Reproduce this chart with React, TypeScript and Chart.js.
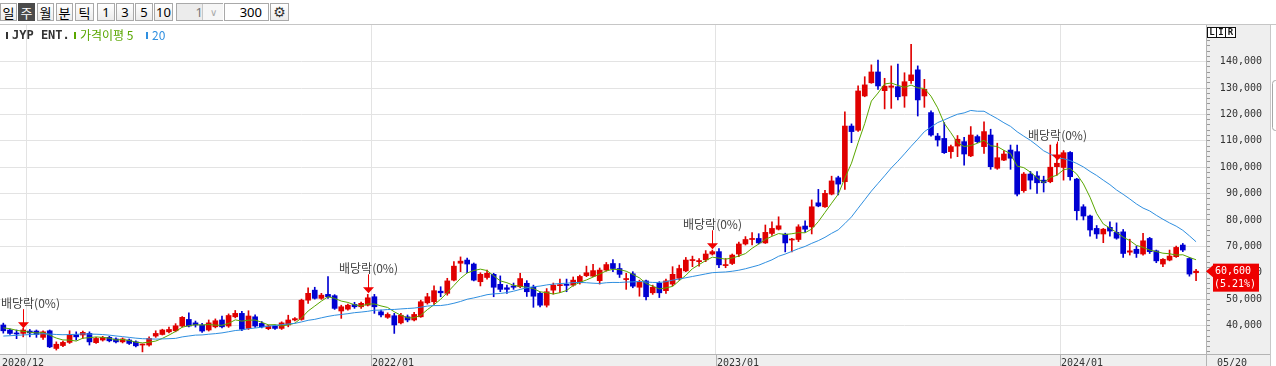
import React, { useEffect, useRef } from 'react';
import { Chart, registerables } from 'chart.js';

Chart.register(...registerables);

// ---------- data ----------
const stockName = 'JYP ENT.';
const firstWeekStart = '2020-12-07';

const opens = [
  40200, 38300, 37100, 37000, 37900, 37900, 35500, 38000, 31300, 32400,
  33600, 36500, 36400, 37000, 33500, 34500, 35500, 34900, 33800, 34500,
  33800, 32600, 32600, 36000, 36600, 37600, 38000, 39800, 42300, 41000,
  40200, 38300, 39500, 42100, 39800, 43300, 44600, 38900, 43300, 40800,
  38800, 39800, 38900, 40200, 42100, 42300, 49600, 53400, 50300, 51800,
  51300, 45500, 46200, 48000, 47100, 47700, 50900, 45200, 43100, 43700,
  41000, 43300, 42100, 43300, 48600, 49000, 53000, 52200, 57200, 63600,
  64800, 63300, 56600, 58200, 59400, 55600, 54300, 55000, 54700, 56000,
  54500, 52200, 47700, 53400, 55100, 55600, 55300, 56200, 58900, 58700,
  57000, 61000, 63500, 61600, 57400, 59600, 54500, 56900, 52400, 56000,
  53200, 55700, 57900, 60700, 64600, 64200, 64900, 67100, 68000, 62700,
  63500, 67100, 70900, 72600, 73000, 71300, 74900, 76500, 74600, 72400,
  72600, 77700, 77400, 86500, 85000, 89800, 96000, 94500, 115600, 114000,
  127000, 132000, 136100, 129000, 130300, 130500, 127000, 132800, 136900, 127000,
  120700, 111800, 110900, 105900, 108000, 109700, 104300, 111600, 107800, 112200,
  99600, 102700, 106500, 105900, 91100, 97400, 96700, 95100, 94500, 100200,
  99900, 105600, 95500, 85000, 81500, 76800, 74700, 77200, 75300, 75500,
  67800, 68900, 67100, 73000, 68300, 63300, 64800, 66100, 70500, 65400, 60000,
];
const highs = [
  40900, 38600, 38300, 39000, 38500, 38300, 38000, 38300, 33800, 34100,
  38000, 37600, 37900, 37600, 35500, 35900, 35900, 35300, 35300, 34900,
  34200, 33000, 35700, 38000, 38600, 39400, 40700, 43400, 44800, 41700,
  40800, 42100, 42500, 43600, 44400, 45700, 45400, 45600, 44000, 41500,
  40200, 40200, 41400, 43900, 43000, 50000, 54300, 54500, 52200, 58500,
  51700, 47700, 48100, 48800, 48900, 51800, 51800, 45800, 44800, 44600,
  44600, 44000, 45000, 49600, 52200, 55000, 54700, 57900, 64200, 66000,
  65600, 63700, 60000, 61000, 59800, 58800, 55300, 56100, 59800, 57000,
  55300, 52700, 54000, 56100, 57600, 57600, 58400, 59100, 62500, 63200,
  61800, 63900, 65000, 63500, 59800, 60400, 57200, 57200, 55300, 56600,
  57600, 62300, 62900, 65800, 66300, 65400, 68400, 68600, 69200, 65400,
  67100, 71600, 73700, 75200, 74800, 78100, 79300, 81200, 75000, 73000,
  78200, 79700, 87600, 91600, 91200, 96600, 96600, 121000, 116400, 130800,
  134300, 138800, 140600, 133700, 138400, 139100, 135800, 146600, 138400, 133300,
  121400, 112800, 116900, 108400, 112000, 111300, 115400, 112200, 117200, 114400,
  109100, 106300, 108400, 108400, 98000, 98400, 98300, 96600, 108400, 108800,
  106300, 105900, 95800, 85800, 81900, 77900, 76800, 79300, 78900, 76400,
  72700, 70100, 74900, 73400, 68600, 65400, 68600, 70100, 71100, 65800, 61300,
];
const lows = [
  37100, 36600, 35000, 35700, 35700, 35500, 34700, 31600, 30700, 32000,
  33200, 34500, 35100, 32600, 33200, 34100, 33800, 33400, 33400, 32800,
  31900, 30000, 32200, 35500, 36400, 37200, 37600, 39400, 39500, 39400,
  37400, 37900, 39100, 39100, 39300, 42900, 38000, 38500, 39300, 39100,
  38400, 38500, 38500, 39500, 41700, 42000, 48400, 50000, 49900, 50300,
  46100, 42700, 45800, 46500, 46500, 47400, 44600, 43300, 42700, 37000,
  40600, 41400, 41700, 43100, 48100, 48000, 50900, 51500, 56900, 60400,
  60000, 56900, 55000, 57600, 50900, 52800, 52200, 53700, 54300, 51000,
  46900, 47000, 47000, 51900, 52400, 52800, 54900, 55700, 58500, 58500,
  55700, 60600, 60400, 58200, 53700, 54300, 51100, 49700, 51800, 50600,
  52200, 55000, 57200, 60400, 62300, 62500, 64200, 66700, 61900, 61900,
  63100, 66100, 70500, 70500, 70900, 71100, 74100, 76200, 67900, 67900,
  71800, 75400, 74700, 85000, 84800, 89500, 89500, 91600, 109300, 113600,
  126700, 131800, 129500, 122100, 122300, 125500, 122700, 131800, 119400, 122700,
  111800, 108000, 105200, 103400, 104000, 100800, 104000, 109300, 105200, 99200,
  99200, 102500, 99200, 89100, 90500, 91700, 90100, 90600, 94100, 97000,
  95100, 95100, 80000, 80000, 73900, 73000, 71400, 73900, 72700, 65800,
  66700, 65800, 66700, 67300, 63800, 62300, 64500, 65800, 68000, 58700, 57000,
];
const closes = [
  38000, 37000, 36800, 38300, 37200, 36600, 37600, 31900, 32900, 33600,
  36400, 35700, 37400, 33800, 35100, 35500, 34200, 33800, 34900, 33200,
  32300, 32900, 35100, 37000, 38300, 38500, 39900, 43100, 39800, 40200,
  37900, 41000, 41800, 39500, 43800, 44600, 38600, 43600, 39800, 39500,
  39800, 38900, 41000, 42100, 42600, 49600, 52200, 50300, 51500, 50900,
  46500, 47100, 47700, 47100, 48400, 50500, 47100, 44000, 44200, 40200,
  43900, 42100, 44200, 49000, 50900, 53200, 52400, 56900, 62500, 64400,
  63300, 57200, 59400, 59800, 54500, 53700, 53700, 54500, 57800, 52800,
  51100, 47700, 52800, 55300, 55300, 55200, 57200, 58600, 60000, 60800,
  61000, 63100, 61600, 59400, 57800, 54900, 56600, 50900, 54500, 52400,
  56900, 59400, 61600, 64800, 65000, 64600, 67100, 68000, 63000, 63100,
  66700, 70900, 72600, 73000, 71300, 75300, 76800, 77800, 71300, 72700,
  77400, 76500, 85000, 85300, 90100, 94800, 93600, 115600, 113500, 128900,
  131200, 136100, 130800, 130700, 130800, 126700, 132400, 135000, 125500, 129500,
  112200, 110300, 105500, 107800, 110600, 105000, 112200, 109700, 113500, 100200,
  103600, 105000, 103400, 89800, 97400, 95100, 94100, 94100, 100000, 101500,
  105500, 96400, 83500, 81500, 76200, 74700, 76500, 75800, 73100, 67300,
  68300, 67300, 72100, 68000, 64500, 65100, 66300, 69600, 68600, 59500, 60600,
];
// weekly closes of the 19 weeks before the first candle (feed the moving averages)
const priorCloses = [
  34500, 33800, 35200, 34600, 34000, 33400, 34800, 36000, 35500, 35000,
  34200, 33800, 35200, 36400, 38100, 38600, 39800, 40200, 38900,
];
const maShortPeriod = 5;
const maLongPeriod = 20;
const maShortLabel = '가격이평 5';
const maLongLabel = '20';

const dividendWeekIdx = [3, 55, 107, 159];
const dividendMarkPrice = [39000, 52200, 68900, 102500];
const dividendLabel = '배당락(0%)';
const lastChangeText = '(5.21%)';

const yMin = 29200;
const yMax = 153900;
const yLabelStep = 10000;
const yMinorStep = 2000;
const yLabelFrom = 40000;
const yLabelTo = 140000;

const periodButtons = ['일', '주', '월', '분', '틱'];
const activePeriod = '주';
const unitButtons = ['1', '3', '5', '10'];
const selectValue = '1';
const countValue = '300';

// ---------- styles ----------
const UP = '#e00000';
const DOWN = '#0000d2';
const GREEN = '#5aa700';
const BLUE = '#2f8fe0';
const GRID = '#e3e3e3';
const AXIS_BG = '#efefef';
const AXIS_LINE = '#b4b4b4';
const MONO = '"DejaVu Sans Mono", monospace';
const KR = '"Noto Sans CJK KR", sans-serif';

// ---------- derived ----------
const weekDates = closes.map((_, i) =>
  new Date(Date.parse(firstWeekStart + 'T00:00:00Z') + i * 7 * 86400000).toISOString().slice(0, 10)
);
const yearStartIdx = weekDates
  .map((d, i) => (i > 0 && d.slice(0, 4) !== weekDates[i - 1].slice(0, 4) ? i : -1))
  .filter((i) => i > 0);

function movingAverage(n: number) {
  const all = [...priorCloses, ...closes];
  return closes.map((_, i) => {
    const end = priorCloses.length + i + 1;
    const win = all.slice(Math.max(0, end - n), end);
    return win.reduce((a, b) => a + b, 0) / win.length;
  });
}

const candleColor = closes.map((c, i) => (c >= opens[i] ? UP : DOWN));
const yTickValues: number[] = [];
for (let v = Math.ceil(yMin / yMinorStep) * yMinorStep; v <= yMax; v += yMinorStep) yTickValues.push(v);

const chromePlugin = {
  id: 'chrome',
  beforeDraw(chart: any) {
    const { ctx, width, height, chartArea: a } = chart;
    ctx.save();
    ctx.fillStyle = '#ffffff';
    ctx.fillRect(0, 0, width, height);
    ctx.fillStyle = AXIS_BG;
    ctx.fillRect(a.right, 0, 64, height);
    ctx.fillRect(0, a.bottom, a.right + 64, height - a.bottom);
    ctx.restore();
  },
  afterDatasetsDraw(chart: any) {
    const { ctx, scales } = chart;
    const xs = scales.x;
    const ys = scales.y;
    ctx.save();
    dividendWeekIdx.forEach((idx, k) => {
      const x = Math.round(xs.getPixelForValue(idx)) + 0.5;
      const ty = ys.getPixelForValue(dividendMarkPrice[k]);
      ctx.strokeStyle = '#f00000';
      ctx.fillStyle = '#f00000';
      ctx.lineWidth = 1;
      ctx.beginPath();
      ctx.moveTo(x, ty - 19);
      ctx.lineTo(x, ty - 5);
      ctx.stroke();
      ctx.beginPath();
      ctx.moveTo(x - 5.5, ty - 6);
      ctx.lineTo(x + 5.5, ty - 6);
      ctx.lineTo(x, ty);
      ctx.closePath();
      ctx.fill();
      ctx.font = '12px ' + KR;
      ctx.fillStyle = '#444';
      ctx.textBaseline = 'middle';
      ctx.textAlign = 'left';
      const w = ctx.measureText(dividendLabel).width;
      const left = Math.max(1, x - w / 2);
      ctx.fillText(dividendLabel, left, ty - 25);
    });
    ctx.restore();
  },
  afterDraw(chart: any) {
    const { ctx, chartArea: a, scales, height } = chart;
    const xs = scales.x;
    const ys = scales.y;
    ctx.save();
    // frame lines
    ctx.strokeStyle = AXIS_LINE;
    ctx.lineWidth = 1;
    ctx.beginPath();
    ctx.moveTo(0, Math.round(a.bottom) + 0.5);
    ctx.lineTo(a.right + 64, Math.round(a.bottom) + 0.5);
    ctx.moveTo(Math.round(a.right) + 0.5, 0);
    ctx.lineTo(Math.round(a.right) + 0.5, height);
    ctx.stroke();
    ctx.strokeStyle = '#c8c8c8';
    ctx.beginPath();
    ctx.moveTo(a.right + 64.5, 0);
    ctx.lineTo(a.right + 64.5, height);
    ctx.stroke();
    ctx.strokeStyle = '#a8a8a8';
    ctx.beginPath();
    ctx.roundRect(a.right + 66.5, 55.5, 14, 50, 3);
    ctx.stroke();

    // x date labels
    ctx.font = '10px ' + MONO;
    ctx.fillStyle = '#333';
    ctx.textBaseline = 'alphabetic';
    ctx.textAlign = 'left';
    let lastLabelX = 2;
    ctx.fillText(weekDates[0].slice(0, 4) + '/' + weekDates[0].slice(5, 7), 2, height - 0.5);
    yearStartIdx.forEach((j) => {
      const bx = Math.round((xs.getPixelForValue(j - 1) + xs.getPixelForValue(j)) / 2);
      if (bx - lastLabelX < 60) return;
      lastLabelX = bx;
      ctx.strokeStyle = AXIS_LINE;
      ctx.beginPath();
      ctx.moveTo(bx + 0.5, a.bottom);
      ctx.lineTo(bx + 0.5, height);
      ctx.stroke();
      ctx.fillText(weekDates[j].slice(0, 4) + '/' + weekDates[j].slice(5, 7), bx + 1, height - 0.5);
    });
    const lastDate = weekDates[weekDates.length - 1];
    ctx.fillText(lastDate.slice(5, 7) + '/' + lastDate.slice(8, 10), a.right + 11, height - 0.5);

    // legend
    ctx.textBaseline = 'middle';
    ctx.fillStyle = '#333';
    ctx.fillRect(6, 7, 2, 7);
    ctx.font = 'bold 12px ' + MONO;
    ctx.fillText(stockName, 12, 10.5);
    ctx.fillStyle = GREEN;
    ctx.fillRect(74, 7, 2, 7);
    ctx.font = '12px ' + KR;
    ctx.fillText(maShortLabel, 80, 10.5);
    ctx.fillStyle = BLUE;
    ctx.fillRect(146, 7, 2, 7);
    ctx.fillText(maLongLabel, 152, 10.5);

    // L I R box
    ctx.strokeStyle = '#111';
    ctx.fillStyle = '#ffffff';
    ctx.fillRect(a.right + 1, 2, 28, 10);
    ctx.strokeRect(a.right + 1.5, 2.5, 28, 10);
    ctx.beginPath();
    ctx.moveTo(a.right + 10.5, 2.5);
    ctx.lineTo(a.right + 10.5, 12.5);
    ctx.moveTo(a.right + 19.5, 2.5);
    ctx.lineTo(a.right + 19.5, 12.5);
    ctx.stroke();
    ctx.fillStyle = '#111';
    ctx.font = 'bold 9px ' + MONO;
    ctx.textAlign = 'center';
    ctx.fillText('L', a.right + 6, 8);
    ctx.fillText('I', a.right + 15, 8);
    ctx.fillText('R', a.right + 24.5, 8);

    // current price box
    const last = closes[closes.length - 1];
    const py = ys.getPixelForValue(last);
    ctx.fillStyle = '#ee0000';
    ctx.beginPath();
    ctx.moveTo(a.right, py);
    ctx.lineTo(a.right + 7, py - 6);
    ctx.lineTo(a.right + 7, py + 6);
    ctx.closePath();
    ctx.fill();
    ctx.fillRect(a.right + 7, py - 7.5, 46, 28);
    ctx.fillStyle = '#ffffff';
    ctx.font = '10px ' + MONO;
    ctx.textAlign = 'left';
    ctx.fillText(last.toLocaleString('en-US'), a.right + 9, py + 0.5);
    ctx.fillText(lastChangeText, a.right + 8, py + 13.5);
    ctx.restore();
  },
};

function Toolbar() {
  const base: React.CSSProperties = {
    position: 'absolute',
    top: 3,
    height: 18,
    boxSizing: 'border-box',
    border: '1px solid #a9a9a9',
    display: 'flex',
    alignItems: 'center',
    justifyContent: 'center',
    fontSize: 13,
    color: '#000',
    background: 'linear-gradient(#ffffff, #ececec)',
  };
  const pLeft = [0, 18, 37, 56, 75];
  const pW = [17, 17, 17, 17, 19];
  const uLeft = [97, 116, 135, 154];
  const uW = [18, 18, 18, 19];
  return (
    <>
      {periodButtons.map((t, i) => (
        <div
          key={'p' + i}
          style={{
            ...base,
            left: pLeft[i],
            width: pW[i],
            fontFamily: KR,
            background: t === activePeriod ? '#4b4b4b' : base.background,
            color: t === activePeriod ? '#fff' : '#000',
            borderColor: t === activePeriod ? '#4b4b4b' : '#a9a9a9',
          }}
        >
          {t}
        </div>
      ))}
      {unitButtons.map((t, i) => (
        <div key={'u' + i} style={{ ...base, left: uLeft[i], width: uW[i], fontFamily: '"Noto Sans", sans-serif' }}>
          {t}
        </div>
      ))}
      <div style={{ ...base, left: 176, width: 47, background: '#ececec', justifyContent: 'flex-start', fontFamily: '"Noto Sans", sans-serif' }}>
        <div style={{ width: 26, textAlign: 'right', color: '#777' }}>{selectValue}</div>
        <div style={{ position: 'absolute', left: 25, top: 0, width: 20, height: 16, borderLeft: '1px solid #c8c8c8', background: '#f6f6f6', color: '#aaa', fontSize: 10, display: 'flex', alignItems: 'center', justifyContent: 'center' }}>∨</div>
      </div>
      <div style={{ ...base, left: 224, width: 45, background: '#fff', justifyContent: 'flex-end', paddingRight: 6, fontFamily: '"Noto Sans", sans-serif' }}>
        {countValue}
      </div>
      <div style={{ ...base, left: 270, width: 19, fontFamily: '"DejaVu Sans", sans-serif', fontSize: 14, color: '#333' }}>⚙</div>
    </>
  );
}

export default function App() {
  const ref = useRef<HTMLCanvasElement>(null);
  useEffect(() => {
    document.body.style.margin = '0';
    const ma5 = movingAverage(maShortPeriod);
    const ma20 = movingAverage(maLongPeriod);
    const chart = new Chart(ref.current as HTMLCanvasElement, {
      type: 'bar',
      data: {
        labels: [...weekDates, ''],
        datasets: [
          {
            type: 'line',
            label: maLongLabel,
            data: ma20,
            borderColor: BLUE,
            borderWidth: 1,
            pointRadius: 0,
            tension: 0,
            order: 0,
          } as any,
          {
            type: 'line',
            label: maShortLabel,
            data: ma5,
            borderColor: GREEN,
            borderWidth: 1,
            pointRadius: 0,
            tension: 0,
            order: 1,
          } as any,
          {
            type: 'bar',
            label: 'body',
            data: opens.map((o, i) => [Math.min(o, closes[i]), Math.max(o, closes[i])]),
            backgroundColor: candleColor,
            barThickness: 5,
            minBarLength: 1,
            grouped: false,
            order: 2,
          } as any,
          {
            type: 'bar',
            label: 'wick',
            data: highs.map((h, i) => [lows[i], h]),
            backgroundColor: candleColor,
            barThickness: 1,
            grouped: false,
            order: 3,
          } as any,
        ],
      },
      options: {
        animation: false,
        responsive: false,
        devicePixelRatio: 1,
        events: [],
        layout: { padding: { left: 0, right: 14, top: 0, bottom: 0 } },
        plugins: { legend: { display: false }, tooltip: { enabled: false } },
        scales: {
          x: {
            type: 'category',
            offset: true,
            afterFit: (s: any) => {
              s.height = 12;
              s.paddingLeft = 0;
              s.paddingRight = 0;
            },
            ticks: { display: false },
            grid: {
              offset: true,
              drawTicks: false,
              color: (c: any) => (yearStartIdx.includes(c.index) ? GRID : 'rgba(0,0,0,0)'),
            },
            border: { display: true, color: AXIS_LINE },
          },
          y: {
            position: 'right',
            min: yMin,
            max: yMax,
            afterBuildTicks: (s: any) => {
              s.ticks = yTickValues.map((v) => ({ value: v }));
            },
            afterFit: (s: any) => {
              s.width = 56;
              s.paddingTop = 0;
              s.paddingBottom = 0;
            },
            ticks: {
              autoSkip: false,
              crossAlign: 'far',
              padding: 7,
              color: '#333',
              font: { family: 'DejaVu Sans Mono', size: 10 },
              callback: (v: any) =>
                v % yLabelStep === 0 && v >= yLabelFrom && v <= yLabelTo ? Number(v).toLocaleString('en-US') : '',
            },
            grid: {
              color: (c: any) =>
                c.tick && c.tick.value % yLabelStep === 0 && c.tick.value >= yLabelFrom && c.tick.value <= yLabelTo
                  ? GRID
                  : 'rgba(0,0,0,0)',
              tickColor: '#9a9a9a',
              tickLength: 4,
              drawTicks: true,
            },
            border: { display: true, color: AXIS_LINE },
          },
        },
      },
      plugins: [chromePlugin],
    } as any);
    return () => chart.destroy();
  }, []);

  return (
    <div style={{ position: 'fixed', left: 0, top: 0, width: 1276, height: 366, overflow: 'hidden', background: '#fff' }}>
      <Toolbar />
      <div style={{ position: 'absolute', left: 0, top: 24, width: 1276, height: 1, background: '#c6c6c6' }} />
      <canvas
        ref={ref}
        width={1276}
        height={341}
        style={{ position: 'absolute', left: 0, top: 25, width: 1276, height: 341 }}
      />
    </div>
  );
}
